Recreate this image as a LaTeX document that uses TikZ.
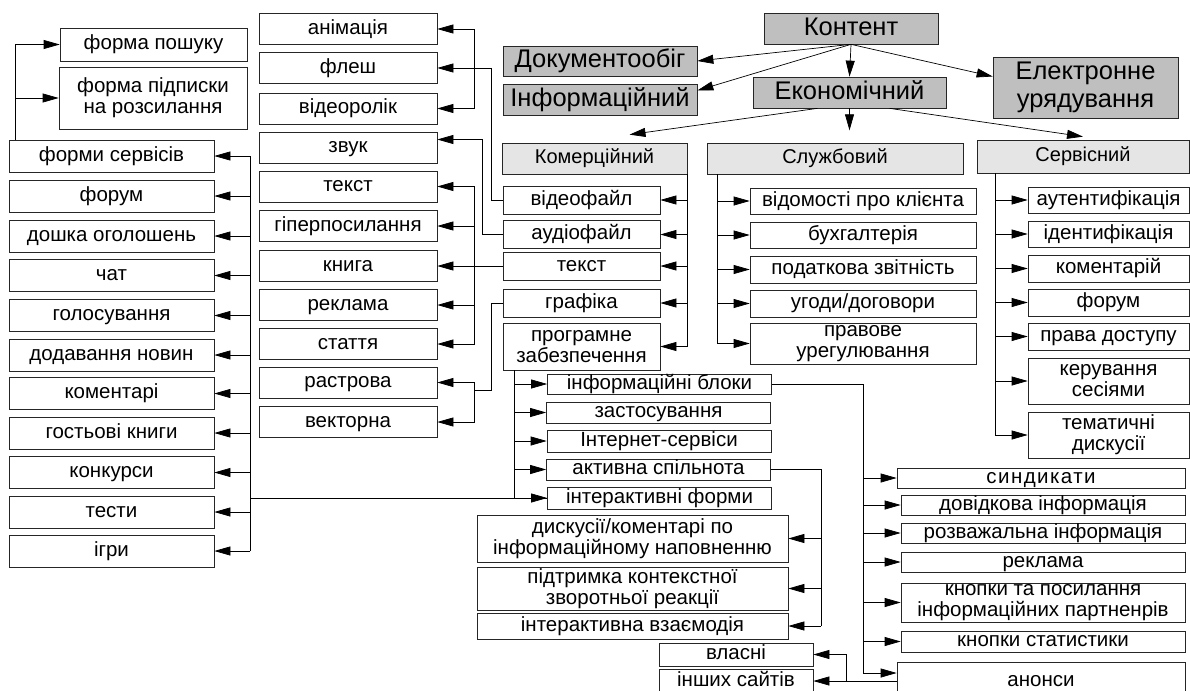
\documentclass[tikz,border=0pt]{standalone}
\usepackage{fontspec}
\setmainfont{Liberation Sans}
\usetikzlibrary{arrows.meta}

\begin{document}
\begin{tikzpicture}[x=1pt, y=-1pt, line width=0.7pt,
    box/.style={draw=black!85, inner sep=0pt, text height=14.8pt, text depth=4.1pt,
        font=\fontsize{20.5}{21}\selectfont},
    two/.style={align=center, text height={}, text depth={}},
    topbox/.style={box, fill=black!25, text height=18.4pt, text depth=5.1pt,
        font=\fontsize{25.5}{28}\selectfont},
    midbox/.style={box, fill=black!10, text height=14.4pt, text depth=4pt,
        font=\fontsize{20}{21}\selectfont},
    lbox/.style={box, minimum width=205, minimum height=32},
    vbox/.style={box, minimum width=178, minimum height=31},
    kbox/.style={box, minimum width=157, minimum height=28},
    sbox/.style={box, minimum width=226, minimum height=26},
    rbox/.style={box, minimum width=161, minimum height=26},
    pbox/.style={box, minimum width=224, minimum height=21},
    abox/.style={box, minimum width=311, minimum height=26},
    ibox/.style={box, minimum width=284, minimum height=20},
    arr/.style={-{Triangle[length=16pt,width=9pt]}}]
    \useasboundingbox (0,0) rectangle (1190,690);

    % top level
    \node[topbox, minimum width=174, minimum height=31] (kontent) at (851,28.5) {Контент};
    \node[topbox, minimum width=194, minimum height=30] (dok) at (600,61) {Документообіг};
    \node[topbox, minimum width=194, minimum height=31] (inform) at (600,99.5) {Інформаційний};
    \node[topbox, minimum width=193, minimum height=31] (ekon) at (849.5,92.5) {Економічний};
    \node[topbox, two, minimum width=185, minimum height=61] (elektr) at (1085.5,87.5) {Електронне\\урядування};

    \node[midbox, minimum width=185, minimum height=31] (komer) at (594.5,158.5) {Комерційний};
    \node[midbox, minimum width=256, minimum height=31] (sluzh) at (835,158.5) {Службовий};
    \node[midbox, minimum width=212, minimum height=33] (servis) at (1083,156.5) {Сервісний};

    % left column
    \node[box, minimum width=187, minimum height=33] (fpos) at (153.5,44.5) {форма пошуку};
    \node[box, two, minimum width=188, minimum height=62] (fpid) at (153,98) {форма підписки\\на розсилання};
    \node[lbox] (fserv) at (111.5,156) {форми сервісів};
    \node[lbox] (forum1) at (111.5,196) {форум};
    \node[lbox] (doshka) at (111.5,236) {дошка оголошень};
    \node[lbox] (chat) at (111.5,275.5) {чат};
    \node[lbox] (golos) at (111.5,315.5) {голосування};
    \node[lbox] (dodav) at (111.5,355) {додавання новин};
    \node[lbox] (koment1) at (111.5,393.5) {коментарі};
    \node[lbox] (gost) at (111.5,433) {гостьові книги};
    \node[lbox] (konk) at (111.5,472.5) {конкурси};
    \node[lbox] (testy) at (111.5,512) {тести};
    \node[lbox] (igry) at (111.5,551) {ігри};

    % second column
    \node[vbox] (anim) at (348,29) {анімація};
    \node[vbox] (flesh) at (348,68) {флеш};
    \node[vbox] (vidrol) at (348,108.5) {відеоролік};
    \node[vbox] (zvuk) at (348,147.5) {звук};
    \node[vbox] (tekst2) at (348,186.5) {текст};
    \node[vbox] (giper) at (348,226) {гіперпосилання};
    \node[vbox] (knyga) at (348,266) {книга};
    \node[vbox] (rekl2) at (348,305) {реклама};
    \node[vbox] (stat) at (348,344) {стаття};
    \node[vbox] (rastr) at (348,382.5) {растрова};
    \node[vbox] (vekt) at (348,422) {векторна};

    % komercijnyj
    \node[kbox] (vfile) at (581.5,200) {відеофайл};
    \node[kbox] (afile) at (581.5,234.5) {аудіофайл};
    \node[kbox] (tekst) at (581.5,266) {текст};
    \node[kbox] (grafika) at (581.5,303) {графіка};
    \node[kbox, two, minimum height=47] (prog) at (581.5,346.5) {програмне\\забезпечення};

    \node[pbox, minimum height=20] (infbl) at (659.5,384) {інформаційні блоки};
    \node[pbox] (zast) at (658.5,412.5) {застосування};
    \node[pbox, minimum height=22] (inet) at (659,441) {Інтернет-сервіси};
    \node[pbox] (aktyv) at (658.5,469.5) {активна спільнота};
    \node[pbox, minimum height=22] (intf) at (659.5,498) {інтерактивні форми};

    \node[abox, two, minimum height=47] (dysk) at (632.5,538.5) {дискусії/коментарі по\\інформаційному наповненню};
    \node[abox, two, minimum height=43] (pidtr) at (632.5,588.5) {підтримка контекстної\\зворотньої реакції};
    \node[abox] (interv) at (632.5,626) {інтерактивна взаємодія};

    % sluzhbovyj
    \node[sbox] (vidom) at (863,201) {відомості про клієнта};
    \node[sbox] (buh) at (863,235) {бухгалтерія};
    \node[sbox, minimum height=27] (podat) at (863,269.5) {податкова звітність};
    \node[sbox, minimum height=27] (ugody) at (863,303.5) {угоди/договори};
    \node[sbox, two, minimum height=41] (pravo) at (863,343.5) {правове\\урегулювання};

    % servisnyj
    \node[rbox] (autent) at (1108.5,200) {аутентифікація};
    \node[rbox] (ident) at (1108.5,234) {ідентифікація};
    \node[rbox, minimum height=27] (koment2) at (1108.5,268.5) {коментарій};
    \node[rbox, minimum height=27] (forum2) at (1108.5,302.5) {форум};
    \node[rbox, minimum height=27] (prava) at (1108.5,336.5) {права доступу};
    \node[rbox, two, minimum height=46] (keruv) at (1108.5,381) {керування\\сесіями};
    \node[rbox, two, minimum height=46] (temat) at (1108.5,435) {тематичні\\дискусії};

    % informacijni bloky
    \node[ibox, minimum width=288] (synd) at (1041,478) {\addfontfeature{LetterSpace=7}синдикати};
    \node[ibox] (dovid) at (1043,505) {довідкова інформація};
    \node[ibox] (rozv) at (1043,533) {розважальна інформація};
    \node[ibox] (rekl3) at (1043,562) {реклама};
    \node[ibox, two, minimum height=39] (knopky) at (1043,602.5) {кнопки та посилання\\інформаційних партненрів};
    \node[ibox, minimum height=21] (stat2) at (1043,641.5) {кнопки статистики};
    \node[ibox, minimum width=288, minimum height=38] (anons) at (1041,681) {анонси};

    \node[box, minimum width=154, minimum height=23] (vlasni) at (736,654.5) {власні};
    \node[box, minimum width=154, minimum height=24] (inshyh) at (736,681) {інших сайтів};

    % connectors
    \draw[arr] (kontent.south) -- (dok.east);
    \draw[arr] (kontent.south) -- ([yshift=9pt]inform.east);
    \draw[arr] (kontent.south) -- (ekon.north);
    \draw[arr] (kontent.south) -- ([yshift=11pt]elektr.west);
    \draw[arr] ([xshift=-32pt]ekon.south) -- ([xshift=35pt,yshift=8pt]komer.north);
    \draw[arr] (ekon.south) -- ++(0,22);
    \draw[arr] ([xshift=40pt]ekon.south) -- ([yshift=3pt]servis.north);

    \draw (komer.south east) -- (komer.south east |- prog.east);
    \foreach \n in {vfile,afile,tekst,grafika,prog}
        \draw[arr] (komer.south east |- \n.east) -- (\n.east);
    \foreach \n in {vidom,buh,podat,ugody,pravo}
        \draw[arr] ([xshift=11pt]sluzh.south west) |- (\n.west);
    \foreach \n in {autent,ident,koment2,forum2,prava,keruv,temat}
        \draw[arr] ([xshift=19pt]servis.south west) |- (\n.west);
    \foreach \n in {infbl,zast,inet,aktyv,intf}
        \draw[arr] ([xshift=12pt]prog.south west) |- (\n.west);

    % to the second column
    \coordinate (busv) at (474,0);
    \draw[arr] (vfile.west) -- ++(-11,0) |- (flesh.east);
    \draw[arr] (flesh.east -| busv) |- (anim.east);
    \draw[arr] (flesh.east -| busv) |- (vidrol.east);
    \draw[arr] (afile.west) -- ++(-20,0) |- ([yshift=8pt]zvuk.east);
    \draw[arr] (tekst.west) -- (knyga.east);
    \foreach \n in {tekst2,giper,rekl2,stat}
        \draw[arr] (knyga.east -| busv) |- (\n.east);
    \coordinate (gj) at (474,390);
    \draw (grafika.west) -- ++(-11,0) |- (gj);
    \draw[arr] (gj) |- (rastr.east);
    \draw[arr] (gj) |- (vekt.east);

    % to the left column
    \coordinate (busl) at (250,0);
    \draw (intf.west) -- (intf.west -| busl);
    \draw (fserv.east -| busl) -- (igry.east -| busl);
    \foreach \n in {fserv,forum1,doshka,chat,golos,dodav,koment1,gost,konk,testy,igry}
        \draw[arr] (\n.east -| busl) -- (\n.east);
    \draw[arr] ([xshift=7pt]fserv.north west) |- (fpos.west);
    \draw[arr] ([xshift=7pt]fserv.north west) |- (fpid.west);

    % aktyvna spilnota
    \coordinate (busa) at (821,0);
    \draw (aktyv.east) -| (interv.east -| busa);
    \foreach \n in {dysk,pidtr,interv}
        \draw[arr] (\n.east -| busa) -- (\n.east);

    % informacijni bloky
    \coordinate (busr) at (863,0);
    \coordinate (anonsin) at ([yshift=8pt]anons.west);
    \draw (infbl.east) -| (anonsin -| busr);
    \foreach \n in {synd,dovid,rozv,rekl3,knopky,stat2}
        \draw[arr] (\n.west -| busr) -- (\n.west);
    \draw[arr] (anonsin -| busr) -- (anonsin);
    \coordinate (aj) at (inshyh.east -| anons.west);
    \draw[arr] (aj) -- (inshyh.east);
    \draw[arr] ([xshift=-50pt]aj) |- (vlasni.east);
\end{tikzpicture}
\end{document}
